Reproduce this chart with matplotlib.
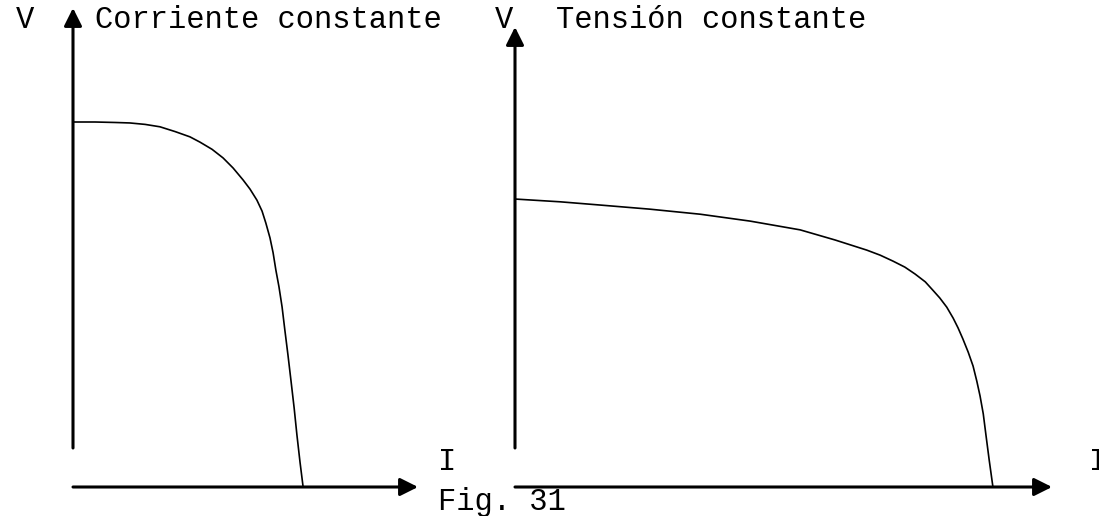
import matplotlib
matplotlib.use('Agg')
import matplotlib.pyplot as plt

# curva de corriente constante (I, V) en unidades arbitrarias 0..10
cc_I = [0.0, 0.64, 1.22, 1.65, 2.09, 2.52, 2.96, 3.39, 3.68, 4.03, 4.35, 4.64, 4.93, 5.13,
        5.33, 5.48, 5.59, 5.71, 5.80, 5.88, 5.97, 6.06, 6.14, 6.23, 6.32, 6.41, 6.49, 6.58, 6.67]
cc_V = [7.62, 7.62, 7.61, 7.60, 7.57, 7.52, 7.42, 7.31, 7.20, 7.05, 6.87, 6.66, 6.41, 6.22,
        5.99, 5.76, 5.51, 5.20, 4.89, 4.53, 4.18, 3.76, 3.28, 2.76, 2.21, 1.65, 1.09, 0.52, 0.0]

# curva de tension constante
tc_I = [0.0, 0.84, 1.58, 2.51, 3.45, 4.38, 5.31, 5.96, 6.55, 6.80, 7.04, 7.26, 7.45, 7.64,
        7.78, 7.91, 8.04, 8.16, 8.25, 8.34, 8.44, 8.53, 8.60, 8.66, 8.72, 8.77, 8.83, 8.90]
tc_V = [6.26, 6.20, 6.13, 6.04, 5.93, 5.78, 5.59, 5.37, 5.15, 5.04, 4.91, 4.78, 4.63, 4.46,
        4.28, 4.11, 3.91, 3.67, 3.46, 3.22, 2.93, 2.63, 2.30, 1.98, 1.59, 1.13, 0.59, 0.0]

W, H = 1099, 516
fig = plt.figure(figsize=(W / 100, H / 100), dpi=100)
plt.rcParams['font.family'] = ['Liberation Mono', 'DejaVu Sans Mono']

def px_axes(x0, x1, ytop, ybot):
    return fig.add_axes([x0 / W, 1 - ybot / H, (x1 - x0) / W, (ybot - ytop) / H])

def draw_panel(ax, I, V, ystart):
    ax.set_xlim(0, 10)
    ax.set_ylim(0, 10)
    ax.axis('off')
    ap = dict(arrowstyle='-|>,head_length=0.4,head_width=0.2', mutation_scale=27,
              lw=2.2, color='black', shrinkA=0, shrinkB=0)
    ax.annotate('', xy=(1, 0), xytext=(0, 0), xycoords='axes fraction', arrowprops=ap)
    ax.annotate('', xy=(0, 1), xytext=(0, ystart), xycoords='axes fraction', arrowprops=ap)
    ax.plot(I, V, color='black', lw=1.2, clip_on=False, solid_joinstyle='round')

ax1 = px_axes(73, 418, 8, 487)
draw_panel(ax1, cc_I, cc_V, 39 / 479)
ax2 = px_axes(515, 1052, 27, 487)
draw_panel(ax2, tc_I, tc_V, 39 / 460)

def label(x, y, s):
    fig.text(x / W, 1 - y / H, s, fontsize=22, va='baseline', ha='left', color='black')

label(16, 28, 'V')
label(95, 28, 'Corriente constante')
label(495, 28, 'V')
label(556, 28, 'Tensión constante')
label(438, 470, 'I')
label(1089, 470, 'I')
label(438, 510, 'Fig. 31')

fig.savefig('out.png', dpi=100)
